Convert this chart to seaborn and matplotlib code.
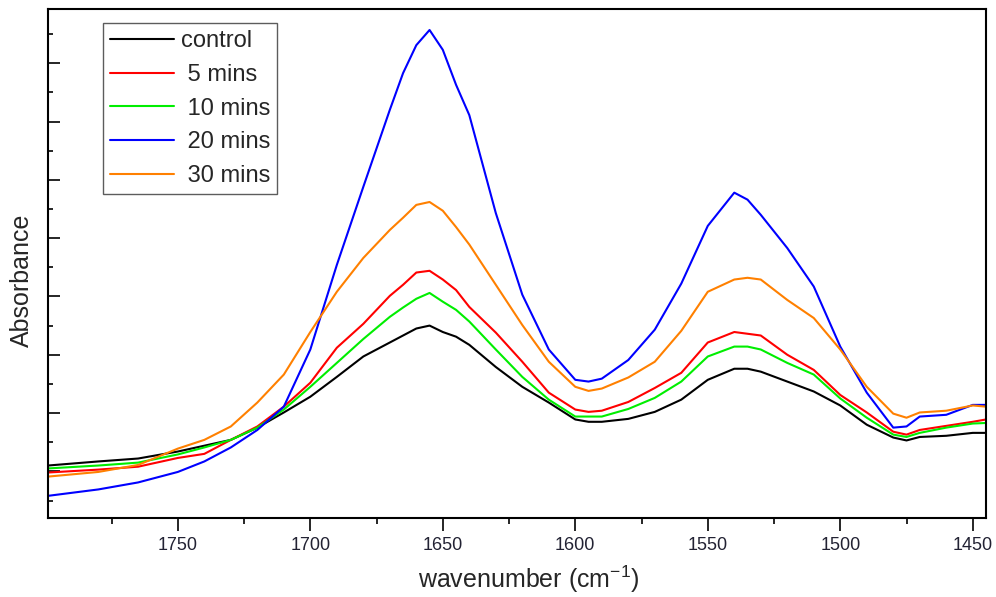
import numpy as np
import pandas as pd
import seaborn as sns
import matplotlib.pyplot as plt
from matplotlib.ticker import MultipleLocator

# wavenumber grid (cm-1)
wavenumber = [1799, 1780, 1765, 1750, 1740, 1730, 1720, 1710, 1700, 1690,
              1680, 1670, 1665, 1660, 1655, 1650, 1645, 1640, 1630, 1620,
              1610, 1600, 1595, 1590, 1580, 1570, 1560, 1550, 1540, 1535,
              1530, 1520, 1510, 1500, 1490, 1480, 1475, 1470, 1460, 1450, 1445]

control = [0.110, 0.117, 0.122, 0.134, 0.144, 0.154, 0.175, 0.201, 0.228, 0.262,
           0.297, 0.321, 0.333, 0.345, 0.350, 0.339, 0.331, 0.317, 0.279, 0.245,
           0.218, 0.189, 0.185, 0.185, 0.190, 0.202, 0.223, 0.257, 0.276, 0.276,
           0.271, 0.254, 0.237, 0.213, 0.180, 0.158, 0.153, 0.159, 0.161, 0.166, 0.166]

min5 = [0.098, 0.103, 0.108, 0.123, 0.130, 0.154, 0.177, 0.211, 0.252, 0.312,
        0.353, 0.401, 0.420, 0.441, 0.444, 0.429, 0.411, 0.382, 0.338, 0.288,
        0.235, 0.206, 0.202, 0.204, 0.219, 0.243, 0.269, 0.321, 0.339, 0.336,
        0.333, 0.300, 0.274, 0.231, 0.201, 0.168, 0.163, 0.171, 0.178, 0.185, 0.189]

min10 = [0.105, 0.110, 0.115, 0.129, 0.141, 0.154, 0.175, 0.206, 0.245, 0.286,
         0.327, 0.365, 0.381, 0.396, 0.406, 0.391, 0.377, 0.357, 0.309, 0.262,
         0.223, 0.194, 0.194, 0.194, 0.207, 0.226, 0.254, 0.297, 0.314, 0.314,
         0.309, 0.286, 0.266, 0.225, 0.192, 0.163, 0.159, 0.166, 0.175, 0.182, 0.183]

min20 = [0.058, 0.069, 0.081, 0.099, 0.117, 0.141, 0.171, 0.211, 0.309, 0.454,
         0.588, 0.720, 0.783, 0.831, 0.857, 0.823, 0.763, 0.711, 0.543, 0.403,
         0.309, 0.257, 0.254, 0.259, 0.291, 0.343, 0.422, 0.521, 0.578, 0.566,
         0.540, 0.483, 0.417, 0.314, 0.235, 0.175, 0.177, 0.194, 0.197, 0.214, 0.214]

min30 = [0.091, 0.099, 0.111, 0.139, 0.154, 0.177, 0.218, 0.266, 0.339, 0.408,
         0.466, 0.514, 0.535, 0.557, 0.562, 0.547, 0.519, 0.489, 0.420, 0.351,
         0.288, 0.245, 0.238, 0.242, 0.261, 0.288, 0.341, 0.408, 0.429, 0.432,
         0.429, 0.394, 0.363, 0.309, 0.245, 0.199, 0.192, 0.201, 0.204, 0.213, 0.211]

labels = ["control", " 5 mins", " 10 mins", " 20 mins", " 30 mins"]
colors = ["#000000", "#ff0000", "#00ee00", "#0000ff", "#ff8000"]

series = [control, min5, min10, min20, min30]
df = pd.concat([pd.DataFrame({"wavenumber": wavenumber, "absorbance": s, "sample": lab})
                for s, lab in zip(series, labels)], ignore_index=True)

sns.set_style("ticks")
plt.rcParams["font.family"] = ["Liberation Sans", "DejaVu Sans"]
plt.rcParams["mathtext.fontset"] = "custom"
plt.rcParams["mathtext.rm"] = "Liberation Sans"
plt.rcParams["mathtext.default"] = "regular"

fig = plt.figure(figsize=(9.96, 5.97), dpi=100)
ax = fig.add_axes([48/996, 1-518/597, 938/996, 509/597])

sns.lineplot(data=df, x="wavenumber", y="absorbance", hue="sample",
             palette=dict(zip(labels, colors)), linewidth=1.5,
             errorbar=None, ax=ax)

ax.set_xlim(1799, 1445)
ax.set_ylim(0.02, 0.893)

ax.xaxis.set_major_locator(MultipleLocator(50))
ax.xaxis.set_minor_locator(MultipleLocator(25))
ax.yaxis.set_major_locator(MultipleLocator(0.1))
ax.yaxis.set_minor_locator(MultipleLocator(0.05))

ax.tick_params(axis="x", which="major", direction="out", length=9, width=1.4,
               labelsize=13, pad=5, labelcolor="#222233")
ax.tick_params(axis="x", which="minor", direction="out", length=4.5, width=1.4)
ax.tick_params(axis="y", which="major", direction="in", length=8.5, width=1.4,
               labelleft=False)
ax.tick_params(axis="y", which="minor", direction="in", length=3.8, width=1.4)

for sp in ax.spines.values():
    sp.set_linewidth(1.5)
    sp.set_color("black")

ax.set_xlabel("wavenumber (cm$^{-1}$)", fontsize=18)
ax.set_ylabel("Absorbance", fontsize=18)
ax.xaxis.set_label_coords(0.513, -0.09)
ax.yaxis.set_label_coords(-0.015, 0.466)

leg = ax.legend(loc="upper left", bbox_to_anchor=(0.0586, 0.9725),
                borderaxespad=0, fontsize=17, frameon=True, fancybox=False,
                handlelength=2.7, handletextpad=0.3, labelspacing=0.5,
                borderpad=0.3)
leg.get_frame().set_edgecolor("#333333")
leg.get_frame().set_linewidth(1.0)
for line in leg.get_lines():
    line.set_linewidth(1.5)

fig.savefig("out.png", dpi=100)
